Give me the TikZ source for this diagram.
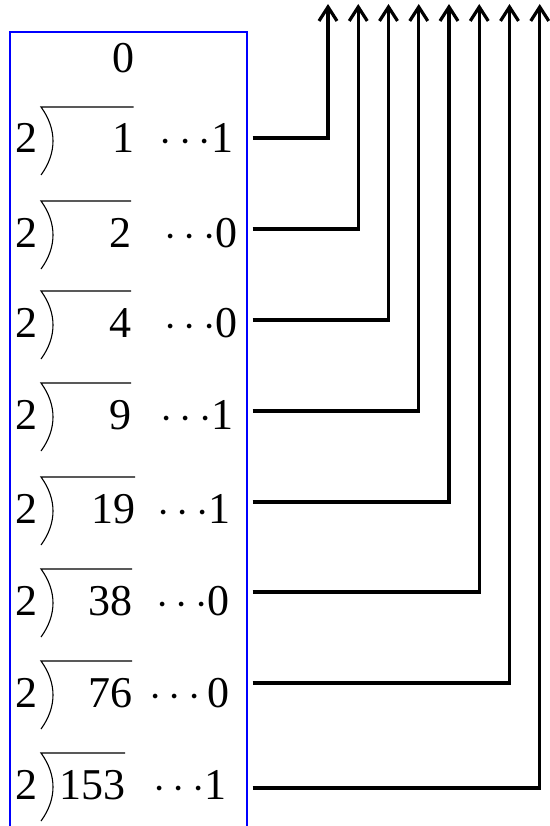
\RequirePackage{fix-cm}
\documentclass[tikz,border=0pt]{standalone}
\usepackage{fontspec}
\setmainfont{Liberation Serif}
\usepackage{tikz}
\usetikzlibrary{positioning,arrows.meta,calc}

\begin{document}
\begin{tikzpicture}[x=1pt,y=-1pt,
  >={Straight Barb[length=14pt,width=18pt]},
  num/.style={font=\fontsize{44}{50}\selectfont,inner sep=0pt},
  frame/.style={draw=blue,line width=2pt},
  hook/.style={line width=1.1pt},
  link/.style={line width=3.2pt,->}]
\useasboundingbox (0,0) rectangle (549,826);
% open blue frame round the divisions
\draw[frame] (10,826) -- (10,32.3) -- (246.5,32.3) -- (246.5,826);
\node[num,anchor=base] (q) at (123,73) {0};
% row/dividend/right edge/remainder/right edge/baseline
\foreach \i/\d/\dx/\r/\rx/\b in {1/1/134.5/{$\cdots$1}/233.5/153,
    2/2/132/{$\cdots$0}/238/247, 3/4/132/{$\cdots$0}/238/337,
    4/9/132/{$\cdots$1}/234/429, 5/19/136/{$\cdots$1}/231/523,
    6/38/133/{$\cdots$0}/230/615, 7/76/133/{$\cdots$\,0}/230/707,
    8/153/126/{$\cdots$1}/227/799}{
  \node[num,anchor=base west] (two\i) at (15.4,\b) {2};
  \node[num,anchor=base east] (div\i) at (\dx,\b) {\d};
  \node[num,anchor=base east] (rem\i) at (\rx,\b) {\r};
  \draw[hook] ($(div\i.base east)+(-1,-46)$) -- (41,\b-46)
    .. controls (57,\b-24) and (57,\b) .. (41,\b+22);
}
% remainders read from bottom to top
\foreach \i/\y in {1/138,2/229,3/320,4/411,5/502,6/592,7/683,8/788}{
  \coordinate (s\i) at (252.5,\y);
  \coordinate (t\i) at ({328+30.25*(\i-1)},4);
  \draw[link] (s\i) -| (t\i);
}
\end{tikzpicture}
\end{document}
